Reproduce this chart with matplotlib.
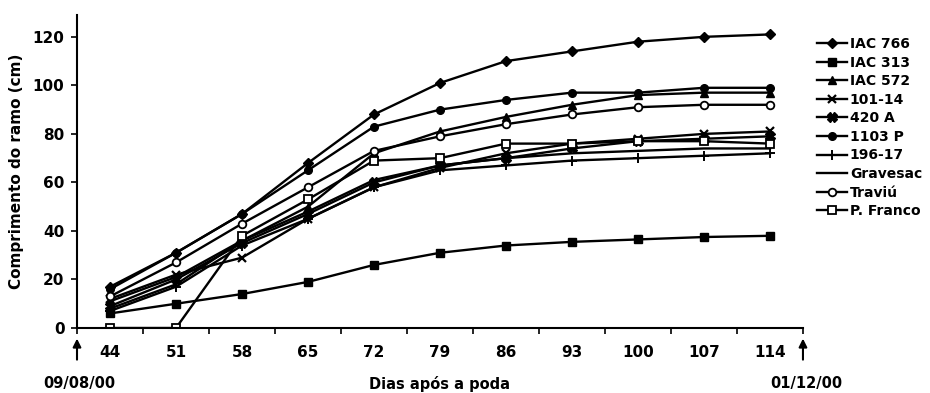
import matplotlib
matplotlib.use("Agg")
import matplotlib.pyplot as plt
import numpy as np

days = ["44", "51", "58", "65", "72", "79", "86", "93", "100", "107", "114"]

iac766 = [17, 31, 47, 68, 88, 101, 110, 114, 118, 120, 121]
iac313 = [6, 10, 14, 19, 26, 31, 34, 35.5, 36.5, 37.5, 38]
iac572 = [11, 21, 36, 50, 72, 81, 87, 92, 96, 97, 97]
v101_14 = [12, 22, 29, 45, 58, 66, 72, 76, 78, 80, 81]
v420a = [9, 20, 35, 47, 60, 67, 70, 74, 77, 78, 79]
v1103p = [16, 31, 47, 65, 83, 90, 94, 97, 97, 99, 99]
v196_17 = [7, 17, 34, 45, 58, 65, 67, 69, 70, 71, 72]
gravesac = [8, 18, 36, 48, 61, 67, 70, 72, 73, 74, 74]
traviu = [13, 27, 43, 58, 73, 79, 84, 88, 91, 92, 92]
pfranco = [0, 0, 38, 53, 69, 70, 76, 76, 77, 77, 76]

series = [
    ("IAC 766", iac766, dict(marker="D", markersize=5, mfc="black")),
    ("IAC 313", iac313, dict(marker="s", markersize=5.5, mfc="black")),
    ("IAC 572", iac572, dict(marker="^", markersize=6, mfc="black")),
    ("101-14", v101_14, dict(marker="x", markersize=6, mew=1.6)),
    ("420 A", v420a, dict(marker="X", markersize=6.5, mfc="black")),
    ("1103 P", v1103p, dict(marker="o", markersize=5.5, mfc="black")),
    ("196-17", v196_17, dict(marker="+", markersize=7, mew=1.4)),
    ("Gravesac", gravesac, dict(marker="None")),
    ("Traviú", traviu, dict(marker="o", markersize=5.5, mfc="white", mew=1.3)),
    ("P. Franco", pfranco, dict(marker="s", markersize=5.5, mfc="white", mew=1.3)),
]

plt.rcParams["font.family"] = ["DejaVu Sans"]
plt.rcParams["font.weight"] = "bold"

fig = plt.figure(figsize=(9.3, 3.93), dpi=100)
ax = fig.add_axes([0.0828, 0.1654, 0.7806, 0.7964])

x = np.arange(len(days))
for name, vals, st in series:
    ax.plot(x, vals, color="black", lw=1.7, mec="black", label=name, **st)

ax.set_xlim(-0.5, len(days) - 0.5)
ax.set_ylim(0, 129)
ax.set_yticks(np.arange(0, 121, 20))
ax.set_xticks(x)
ax.set_xticklabels(days, fontsize=11, fontweight="bold")
ax.set_xticks(np.arange(-0.5, len(days), 1), minor=True)
ax.tick_params(axis="x", which="major", length=0, pad=12)
ax.tick_params(axis="x", which="minor", length=4, width=1.2, direction="out")
ax.tick_params(axis="y", length=4, width=1.2, direction="out", labelsize=11, pad=5)
for lab in ax.get_yticklabels():
    lab.set_fontweight("bold")

for s in ["top", "right"]:
    ax.spines[s].set_visible(False)
for s in ["left", "bottom"]:
    ax.spines[s].set_linewidth(1.5)

ax.set_ylabel("Comprimento do ramo (cm)", fontsize=11, fontweight="bold", labelpad=6)

trans = matplotlib.transforms.blended_transform_factory(ax.transData, ax.transAxes)
for xp in [-0.5, len(days) - 0.5]:
    ax.annotate("", xy=(xp, -0.025), xytext=(xp, -0.11), xycoords=trans, textcoords=trans,
                arrowprops=dict(arrowstyle="-|>", color="black", lw=1.5, mutation_scale=12),
                annotation_clip=False)
ax.text(-0.47, -0.178, "09/08/00", transform=trans, ha="center", va="center", fontsize=10.5, fontweight="bold")
ax.text(len(days) - 0.45, -0.178, "01/12/00", transform=trans, ha="center", va="center", fontsize=10.5, fontweight="bold")
ax.text((len(days) - 1) / 2, -0.178, "Dias após a poda", transform=trans, ha="center", va="center", fontsize=10.5, fontweight="bold")

leg = fig.legend(loc="upper left", bbox_to_anchor=(0.872, 0.92), frameon=False, fontsize=10,
                 handlelength=2.2, handletextpad=0.2, labelspacing=0.33, borderaxespad=0)
for t in leg.get_texts():
    t.set_fontweight("bold")

fig.savefig("out.png", dpi=100)
